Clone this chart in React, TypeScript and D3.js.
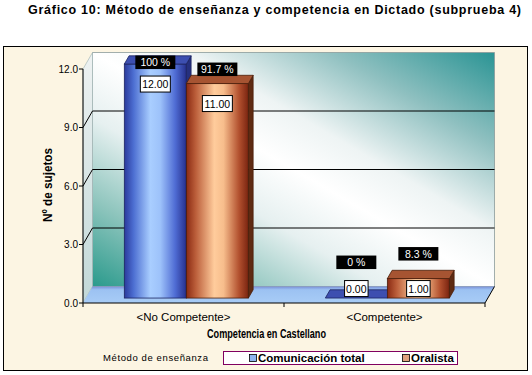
import React from 'react';
import * as d3 from 'd3';

const categories = ['<No Competente>', '<Competente>'];
const seriesNames = ['Comunicación total', 'Oralista'];
const comunicacionTotal = [12, 0];
const oralista = [11, 1];
const pctComunicacion = ['100 %', '0 %'];
const pctOralista = ['91.7 %', '8.3 %'];
const yTicks = [0, 3, 6, 9, 12];

// manual nudges for the black % boxes (px above the bar top), as in the source chart
const pctNudge = [
  [2, 14.5],
  [36, 25],
];

const W = 532;
const H = 375;
const DX = 9.5;
const DY = -16.5;
const F0 = 0.3;
const F1 = 0.8;
const FONT = '"Liberation Sans", Arial, sans-serif';

const seriesStyle = [
  { grad: 'gBlue', side: '#26307e', top: '#3d4fb0', stroke: '#1c2360', swatch: '#8fb4ef' },
  { grad: 'gOrange', side: '#5e2a12', top: '#a65432', stroke: '#4a1e0a', swatch: '#e0a27e' },
];

export default function App() {
  const x0 = d3.scaleBand<string>().domain(categories).range([83, 485]).padding(0);
  const xs = d3
    .scaleBand<string>()
    .domain(seriesNames)
    .range([0, x0.bandwidth()])
    .paddingInner(0)
    .paddingOuter(0.62);
  const y = d3.scaleLinear().domain([0, 12]).range([303, 69]);

  const left = 83;
  const right = 485;
  const y0 = y(0);
  const yTop = y(12);
  const values = [comunicacionTotal, oralista];
  const pcts = [pctComunicacion, pctOralista];
  const bw = xs.bandwidth();
  const cdx = DX * (F1 - F0);
  const cdy = DY * (F1 - F0);

  const bars: React.ReactNode[] = [];
  const labels: React.ReactNode[] = [];

  categories.forEach((c, ci) => {
    seriesNames.forEach((s, si) => {
      const v = values[si][ci];
      const st = seriesStyle[si];
      const fx = (x0(c) as number) + (xs(s) as number) + DX * F0;
      const fyTop = y(v) + DY * F0;
      const fyBot = y0 + DY * F0;
      const h = fyBot - fyTop;
      bars.push(
        <g key={`b${ci}${si}`}>
          {h > 0 && (
            <rect x={fx} y={fyTop} width={bw} height={h} fill={`url(#${st.grad})`} stroke={st.stroke} strokeWidth={0.8} />
          )}
          {h > 0 && (
            <polygon
              points={`${fx + bw},${fyTop} ${fx + bw + cdx},${fyTop + cdy} ${fx + bw + cdx},${fyBot + cdy} ${fx + bw},${fyBot}`}
              fill={st.side}
              stroke={st.stroke}
              strokeWidth={0.8}
            />
          )}
          <polygon
            points={`${fx},${fyTop} ${fx + cdx},${fyTop + cdy} ${fx + bw + cdx},${fyTop + cdy} ${fx + bw},${fyTop}`}
            fill={st.top}
            stroke={st.stroke}
            strokeWidth={0.8}
          />
        </g>
      );

      const cx = fx + bw / 2;
      const valTxt = v.toFixed(2);
      const vw = valTxt.length * 6.5 - 2.5;
      const vy = Math.min(fyTop + 20, fyBot - 9.5);
      const pTxt = pcts[si][ci];
      const pw = 40;
      const py = fyTop - pctNudge[ci][si];
      labels.push(
        <g key={`l${ci}${si}`} fontFamily={FONT} fontSize={10.5}>
          <rect x={cx - pw / 2} y={py - 6.5} width={pw} height={13.5} fill="#000" />
          <text x={cx} y={py + 4} fill="#fff" textAnchor="middle">
            {pTxt}
          </text>
          <rect x={cx - vw / 2} y={vy - 8} width={vw} height={16} fill="#fff" stroke="#000" strokeWidth={1} />
          <text x={cx} y={vy + 4} fill="#000" textAnchor="middle">
            {valTxt}
          </text>
        </g>
      );
    });
  });

  return (
    <svg width={W} height={H} style={{ position: 'absolute', left: 0, top: 0 }}>
      <defs>
        <linearGradient id="gWall" x1="1" y1="0" x2="0" y2="1">
          <stop offset="0" stopColor="#2a9494" />
          <stop offset="0.2" stopColor="#8fc0c0" />
          <stop offset="0.38" stopColor="#eef4f4" />
          <stop offset="0.5" stopColor="#ffffff" />
          <stop offset="0.64" stopColor="#e6f0f0" />
          <stop offset="0.82" stopColor="#8cc4bc" />
          <stop offset="1" stopColor="#2a9a8c" />
        </linearGradient>
        <linearGradient id="gLeft" x1="0" y1="0" x2="0" y2="1">
          <stop offset="0" stopColor="#eef2f2" />
          <stop offset="1" stopColor="#c2d8d8" />
        </linearGradient>
        <linearGradient id="gFloor" x1="0" y1="1" x2="0" y2="0">
          <stop offset="0" stopColor="#a8ccf6" />
          <stop offset="0.8" stopColor="#9cc2f2" />
          <stop offset="1" stopColor="#7a90d8" />
        </linearGradient>
        <linearGradient id="gBlue" x1="0" y1="0" x2="1" y2="0">
          <stop offset="0" stopColor="#2a3a9c" />
          <stop offset="0.15" stopColor="#4d6fd2" />
          <stop offset="0.42" stopColor="#a9ceff" />
          <stop offset="0.58" stopColor="#9dc2fa" />
          <stop offset="0.82" stopColor="#4f6cd4" />
          <stop offset="1" stopColor="#26308c" />
        </linearGradient>
        <linearGradient id="gOrange" x1="0" y1="0" x2="1" y2="0">
          <stop offset="0" stopColor="#8a2a12" />
          <stop offset="0.15" stopColor="#bb5e3a" />
          <stop offset="0.45" stopColor="#ffcc9c" />
          <stop offset="0.6" stopColor="#f7bd8c" />
          <stop offset="0.85" stopColor="#b2502e" />
          <stop offset="1" stopColor="#7a2410" />
        </linearGradient>
      </defs>

      <rect width={W} height={H} fill="#fff" />
      <text
        x={28}
        y={14}
        fontFamily={FONT}
        fontWeight="bold"
        fontSize={12.5}
        textLength={493}
        lengthAdjust="spacing"
      >
        Gráfico 10: Método de enseñanza y competencia en Dictado (subprueba 4)
      </text>

      <rect x={3.5} y={46.5} width={524} height={324} fill="#fcf5e3" stroke="#000" />

      {/* walls and floor */}
      <polygon
        points={`${left + DX},${yTop + DY} ${right + DX},${yTop + DY} ${right + DX},${y0 + DY} ${left + DX},${y0 + DY}`}
        fill="url(#gWall)"
        stroke="#8a9a9a"
        strokeWidth={0.8}
      />
      <polygon
        points={`${left},${yTop} ${left + DX},${yTop + DY} ${left + DX},${y0 + DY} ${left},${y0}`}
        fill="url(#gLeft)"
        stroke="#9ab0b0"
        strokeWidth={0.6}
      />
      <polygon
        points={`${left},${y0} ${right},${y0} ${right + DX},${y0 + DY} ${left + DX},${y0 + DY}`}
        fill="url(#gFloor)"
      />
      <line x1={right} y1={y0} x2={right + DX} y2={y0 + DY} stroke="#000" />

      {yTicks
        .filter((t) => t > 0 && t < 12)
        .map((t) => (
          <polyline
            key={t}
            points={`${left},${y(t)} ${left + DX},${y(t) + DY} ${right + DX},${y(t) + DY}`}
            fill="none"
            stroke="#000"
            strokeWidth={1}
          />
        ))}

      {bars}

      {/* axes */}
      <line x1={left} y1={yTop} x2={left} y2={y0} stroke="#000" />
      <line x1={left} y1={y0} x2={right} y2={y0} stroke="#000" />
      {yTicks.map((t) => (
        <g key={t}>
          <line x1={left - 4} y1={y(t)} x2={left} y2={y(t)} stroke="#000" />
          <text x={78} y={y(t) + 3.5} textAnchor="end" fontFamily={FONT} fontSize={10}>
            {d3.format('.1f')(t)}
          </text>
        </g>
      ))}
      {[left, ...categories.map((c) => (x0(c) as number) + x0.bandwidth())].map((xv, i) => (
        <line key={i} x1={xv} y1={y0} x2={xv} y2={y0 + 4} stroke="#000" />
      ))}
      {categories.map((c) => (
        <text
          key={c}
          x={(x0(c) as number) + x0.bandwidth() / 2}
          y={321}
          textAnchor="middle"
          fontFamily={FONT}
          fontSize={11.5}
        >
          {c}
        </text>
      ))}

      <text
        x={207}
        y={338}
        fontFamily={FONT}
        fontWeight="bold"
        fontSize={12}
        textLength={119}
        lengthAdjust="spacingAndGlyphs"
      >
        Competencia en Castellano
      </text>
      <text
        transform="translate(52,185) rotate(-90)"
        textAnchor="middle"
        fontFamily={FONT}
        fontWeight="bold"
        fontSize={12}
        textLength={74}
        lengthAdjust="spacingAndGlyphs"
      >
        Nº de sujetos
      </text>

      {labels}

      {/* legend */}
      <text x={103} y={361} fontFamily={FONT} fontSize={9.5} textLength={105} lengthAdjust="spacing">
        Método de enseñanza
      </text>
      <rect x={223.5} y={351.5} width={234} height={13} fill="#fff" stroke="#800060" />
      {seriesNames.map((s, i) => {
        const sx = i === 0 ? 249 : 402;
        return (
          <g key={s}>
            <rect x={sx + 0.5} y={354.5} width={7} height={7} fill={seriesStyle[i].swatch} stroke="#000" strokeWidth={0.8} />
            <text x={sx + 9} y={362} fontFamily={FONT} fontWeight="bold" fontSize={11.5}>
              {s}
            </text>
          </g>
        );
      })}
    </svg>
  );
}
